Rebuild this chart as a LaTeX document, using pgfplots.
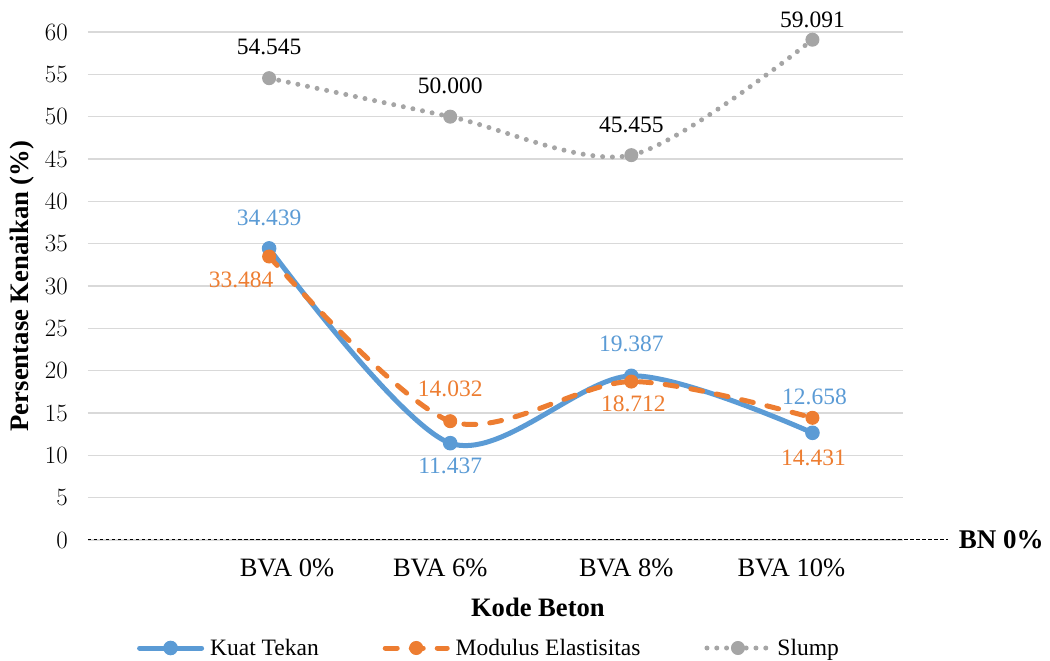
\documentclass[border=0pt]{standalone}
\usepackage{pgfplots}
\pgfplotsset{compat=1.18}
\usepackage{fontspec}
\setmainfont{Liberation Serif}
\definecolor{cblue}{HTML}{5B9BD5}
\definecolor{corange}{HTML}{ED7D31}
\definecolor{cgray}{HTML}{A5A5A5}
\definecolor{cgrid}{HTML}{D9D9D9}
\newcommand{\lblfont}{\fontsize{23.5}{26}\selectfont}
\begin{document}
\begin{tikzpicture}
\begin{axis}[
  at={(0pt,0pt)}, anchor=south west,
  scale only axis, width=815pt, height=508pt,
  xmin=0, xmax=4.5, ymin=0, ymax=60,
  clip=false,
  axis line style={draw=none},
  tick style={draw=none},
  ytick={0,5,...,60},
  ymajorgrids, grid style={cgrid, line width=1.5pt},
  xtick={1.099,1.945,2.972,3.884},
  xticklabels={BVA 0\%, BVA 6\%, BVA 8\%, BVA 10\%},
  yticklabel style={font=\fontsize{24}{27}\selectfont, anchor=east, inner sep=0pt, xshift=-20pt},
  xticklabel style={font=\fontsize{26.5}{29}\selectfont, anchor=base, inner sep=0pt, yshift=-37pt},
  xlabel={Kode Beton},
  xlabel style={font=\bfseries\fontsize{26.6}{30}\selectfont, at={(axis description cs:0.552,0)}, anchor=base, yshift=-77pt},
  ylabel={Persentase Kenaikan (\%)},
  ylabel style={font=\bfseries\fontsize{26.7}{30}\selectfont, at={(axis description cs:0,0.5)}, anchor=center, yshift=66pt},
  legend style={at={(axis description cs:0.492,-0.2126)}, anchor=center, draw=none, fill=none,
    legend columns=3, font=\fontsize{23.5}{26}\selectfont,
    /tikz/every odd column/.append style={column sep=4pt},
    /tikz/every even column/.append style={column sep=62pt}},
  legend image code/.code={\draw[mark repeat=2, mark phase=2, #1] plot coordinates {(0pt,0pt) (31pt,0pt) (62pt,0pt)};},
]
\addplot[black, line width=1pt, dash pattern=on 3.5pt off 2.5pt, forget plot] coordinates {(0,0) (4.751,0)};

\addplot[cblue, line width=5pt, line cap=round, smooth, mark=*, mark size=6.8pt, mark options={solid, line width=1pt}]
  coordinates {(1,34.439) (2,11.437) (3,19.387) (4,12.658)};
\addlegendentry{Kuat Tekan}
\addplot[corange, line width=5pt, dash pattern=on 12pt off 14pt, line cap=round, smooth, mark=*, mark size=6.5pt, mark options={solid, line width=1pt}]
  coordinates {(1,33.484) (2,14.032) (3,18.712) (4,14.431)};
\addlegendentry{Modulus Elastisitas}
\addplot[cgray, line width=5pt, dash pattern=on 0pt off 9.8pt, line cap=round, smooth, mark=*, mark size=6.5pt, mark options={solid, line width=1pt}]
  coordinates {(1,54.545) (2,50.000) (3,45.455) (4,59.091)};
\addlegendentry{Slump}

% data labels
\node[cblue, font=\lblfont, anchor=center, yshift=31pt] at (axis cs:1,34.439) {34.439};
\node[cblue, font=\lblfont, anchor=center, yshift=-23pt] at (axis cs:2,11.437) {11.437};
\node[cblue, font=\lblfont, anchor=center, yshift=32pt] at (axis cs:3,19.387) {19.387};
\node[cblue, font=\lblfont, anchor=center, yshift=36pt, xshift=2pt] at (axis cs:4,12.658) {12.658};
\node[corange, font=\lblfont, anchor=center, yshift=-23pt, xshift=-28pt] at (axis cs:1,33.484) {33.484};
\node[corange, font=\lblfont, anchor=center, yshift=32pt] at (axis cs:2,14.032) {14.032};
\node[corange, font=\lblfont, anchor=center, yshift=-22pt, xshift=2pt] at (axis cs:3,18.712) {18.712};
\node[corange, font=\lblfont, anchor=center, yshift=-40pt, xshift=1pt] at (axis cs:4,14.431) {14.431};
\node[black, font=\lblfont, anchor=center, yshift=31pt] at (axis cs:1,54.545) {54.545};
\node[black, font=\lblfont, anchor=center, yshift=31pt] at (axis cs:2,50.000) {50.000};
\node[black, font=\lblfont, anchor=center, yshift=30pt] at (axis cs:3,45.455) {45.455};
\node[black, font=\lblfont, anchor=center, yshift=20pt] at (axis cs:4,59.091) {59.091};
\node[black, font=\bfseries\fontsize{27}{30}\selectfont, anchor=west, inner sep=0pt] at (axis cs:4.807,0) {BN 0\%};
\end{axis}
\pgfresetboundingbox
\useasboundingbox (-88pt,-121pt) rectangle (962pt,540pt);
\end{tikzpicture}
\end{document}
